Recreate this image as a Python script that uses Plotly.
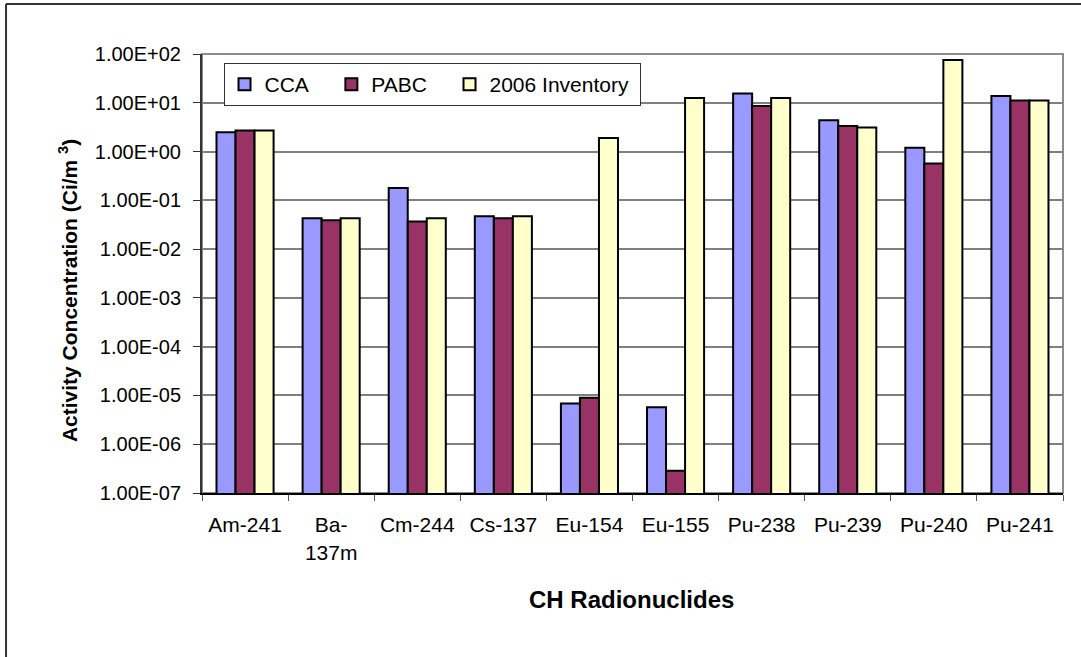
import plotly.graph_objects as go

#%% Data

nuclides = ['Am-241', 'Ba-<br>137m', 'Cm-244', 'Cs-137', 'Eu-154',
            'Eu-155', 'Pu-238', 'Pu-239', 'Pu-240', 'Pu-241']

cca = [2.5, 0.043, 0.18, 0.047, 6.8e-6, 5.7e-6, 15.5, 4.4, 1.2, 13.8]
pabc = [2.7, 0.039, 0.037, 0.043, 9.0e-6, 2.85e-7, 8.6, 3.35, 0.57, 11.2]
inventory = [2.7, 0.043, 0.043, 0.047, 1.9, 12.5, 12.5, 3.1, 75.0, 11.2]

tick_vals = [1e-7, 1e-6, 1e-5, 1e-4, 1e-3, 1e-2, 1e-1, 1e0, 1e1, 1e2]
tick_text = ['1.00E-07', '1.00E-06', '1.00E-05', '1.00E-04', '1.00E-03',
             '1.00E-02', '1.00E-01', '1.00E+00', '1.00E+01', '1.00E+02']

#%% Figure

FONT = 'Liberation Sans, Arial, sans-serif'
bar_line = dict(color='black', width=2)
pad = '\u00a0' * 3

fig = go.Figure()

fig.add_trace(go.Bar(x=nuclides, y=cca, name='CCA' + pad,
                     marker=dict(color='#9999FF', line=bar_line)))
fig.add_trace(go.Bar(x=nuclides, y=pabc, name='PABC' + pad,
                     marker=dict(color='#993366', line=bar_line)))
fig.add_trace(go.Bar(x=nuclides, y=inventory, name='2006 Inventory\u00a0',
                     marker=dict(color='#FFFFCC', line=bar_line)))

fig.update_layout(width=1081,
                  height=657,
                  autosize=False,
                  margin=dict(l=202, r=18, t=54, b=164),
                  plot_bgcolor='white',
                  paper_bgcolor='white',
                  barmode='group',
                  bargap=0.337,
                  bargroupgap=0,
                  font=dict(family=FONT, size=20, color='black'),
                  legend=dict(orientation='h',
                              x=0.025, y=0.9795,
                              xanchor='left', yanchor='top',
                              bgcolor='white',
                              bordercolor='#333333',
                              borderwidth=1,
                              font=dict(size=21),
                              itemsizing='constant'))

fig.update_xaxes(showline=True,
                 linecolor='black',
                 linewidth=2,
                 ticks='outside',
                 ticklen=6,
                 tickcolor='#555555',
                 tickson='boundaries',
                 ticklabelstandoff=12,
                 showgrid=False,
                 tickfont=dict(size=21))

fig.update_yaxes(type='log',
                 range=[-7, 2],
                 tickvals=tick_vals,
                 ticktext=tick_text,
                 showline=True,
                 linecolor='#333333',
                 linewidth=2,
                 ticks='outside',
                 ticklen=7,
                 tickcolor='#333333',
                 ticklabelstandoff=8,
                 showgrid=True,
                 gridcolor='#808080',
                 gridwidth=1.5,
                 zeroline=False,
                 tickfont=dict(size=20))

# grey plot-area border (top and right)
fig.add_shape(type='rect', xref='paper', yref='paper',
              x0=0, x1=1, y0=0, y1=1,
              line=dict(color='#8C8C8C', width=2), layer='below')

# outer chart frame (left and top edges)
fig.add_shape(type='line', xref='paper', yref='paper',
              x0=-0.2276, x1=1.03, y0=1.1139, y1=1.1139,
              line=dict(color='#333333', width=2))
fig.add_shape(type='line', xref='paper', yref='paper',
              x0=-0.2276, x1=-0.2276, y0=-0.40, y1=1.1139,
              line=dict(color='#333333', width=2))

fig.add_annotation(x=-0.173, y=0.46, xref='paper', yref='paper',
                   text='<b>Activity Concentration (Ci/m <sup>3</sup>)</b>',
                   textangle=-90, showarrow=False,
                   font=dict(size=21))
fig.add_annotation(x=0.4994, y=-0.278, xref='paper', yref='paper',
                   text='<b>CH Radionuclides</b>',
                   showarrow=False,
                   font=dict(size=24))

# page has a default 8px body margin; drop it so the figure sits at 0,0
fig.write_html('out.html',
               config=dict(displayModeBar=False),
               post_script="document.body.style.margin='0';")
